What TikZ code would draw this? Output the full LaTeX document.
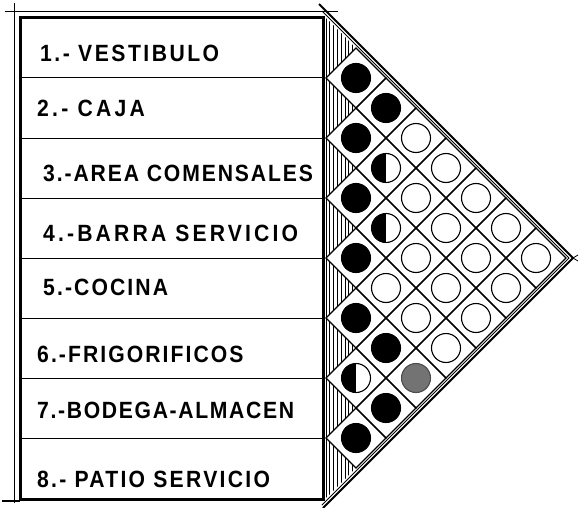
\documentclass[tikz,border=0pt]{standalone}
\usepackage{fontspec}
\setmainfont{Liberation Sans}
\begin{document}
\begin{tikzpicture}[x=1pt,y=-1pt,
  lab/.style={anchor=base west, inner sep=0pt, font=\bfseries\fontsize{23.5}{23.5}\selectfont\addfontfeature{FakeStretch=0.9}},
  sep/.style={line width=1pt},
  cell/.style={line width=1.1pt, line join=miter},
  dot/.style={circle, draw, line width=1.1pt, minimum size=29pt, inner sep=0pt},
  blk/.style={dot, fill=black},
  wht/.style={dot, fill=white},
  hlf/.style={dot, fill=white, path picture={\fill[black] (path picture bounding box.south west) rectangle (path picture bounding box.north);}},
  gry/.style={dot, fill=black!55, draw=black!70}]
\useasboundingbox (0,0) rectangle (583,508);
% hatched strip
\begin{scope}
\clip (323,15) -- (356,48) -- (326,78) -- (356,108) -- (326,138) -- (356,168) -- (326,198) -- (356,228) -- (326,258) -- (356,288) -- (326,318) -- (356,348) -- (326,378) -- (356,408) -- (326,438) -- (356,468) -- (323,501) -- cycle;
\foreach \x in {326,329.8,...,358} \draw[line width=1pt] (\x,0) -- (\x,508);
\end{scope}
% diamond cells
\foreach \i in {1,...,7}{
  \pgfmathtruncatemacro\js{\i+1}
  \foreach \j in {\js,...,8}{
    \pgfmathsetmacro\cx{326+30*(\j-\i)}
    \pgfmathsetmacro\cy{30*(\i+\j)-12}
    \draw[cell] (\cx-30,\cy) -- (\cx,\cy-30) -- (\cx+30,\cy) -- (\cx,\cy+30) -- cycle;
  }
}
% circles
\foreach \i/\j/\t in {1/2/blk, 2/3/blk, 3/4/blk, 4/5/blk, 5/6/blk, 6/7/hlf, 7/8/blk,
  1/3/blk, 2/4/hlf, 3/5/hlf, 4/6/wht, 5/7/blk, 6/8/blk,
  1/4/wht, 2/5/wht, 3/6/wht, 4/7/wht, 5/8/gry,
  1/5/wht, 2/6/wht, 3/7/wht, 4/8/wht,
  1/6/wht, 2/7/wht, 3/8/wht,
  1/7/wht, 2/8/wht,
  1/8/wht}
  \node[\t] (c\i\j) at ({326+30*(\j-\i)},{30*(\i+\j)-12}) {};
% triangle double edges
\coordinate (ti) at (322,11);
\coordinate (ai) at (569,258);
\coordinate (bi) at (322,505);
\coordinate (to) at (319,4);
\coordinate (ao) at (573,258);
\coordinate (bo) at (323,508);
\draw[line width=1pt] (ti) -- (ai) -- (bi);
\draw[line width=2pt] (to) -- (ao) -- (bo);
\draw[line width=0.8pt] (ao) -- ++(5,-3);
\draw[line width=0.8pt] (ao) -- ++(5,3);
% list frame
\draw[line width=0.8pt] (5,11) -- (338,11);
\draw[line width=0.8pt] (14,3) -- (14,503);
\draw[line width=1.5pt] (2,501) -- (20,501);
\foreach \k in {1,...,7} \draw[sep] (20,18+60*\k) -- (323,18+60*\k);
\draw[line width=3pt] (20,18) rectangle (323,499);
% labels
\node[lab] (l1) at (40,62) {\addfontfeature{LetterSpace=10.6}1.- VESTIBULO};
\node[lab] (l2) at (37,117) {\addfontfeature{LetterSpace=13.9}2.- CAJA};
\node[lab] (l3) at (43,181) {\addfontfeature{LetterSpace=8}3.-AREA COMENSALES};
\node[lab] (l4) at (43,241) {\addfontfeature{LetterSpace=13.4}4.-BARRA SERVICIO};
\node[lab] (l5) at (43,295) {\addfontfeature{LetterSpace=8.9}5.-COCINA};
\node[lab] (l6) at (37,362) {\addfontfeature{LetterSpace=8.8}6.-FRIGORIFICOS};
\node[lab] (l7) at (37,418) {\addfontfeature{LetterSpace=7.1}7.-BODEGA-ALMACEN};
\node[lab] (l8) at (37,487) {\addfontfeature{LetterSpace=9.7}8.- PATIO SERVICIO};
\end{tikzpicture}
\end{document}
